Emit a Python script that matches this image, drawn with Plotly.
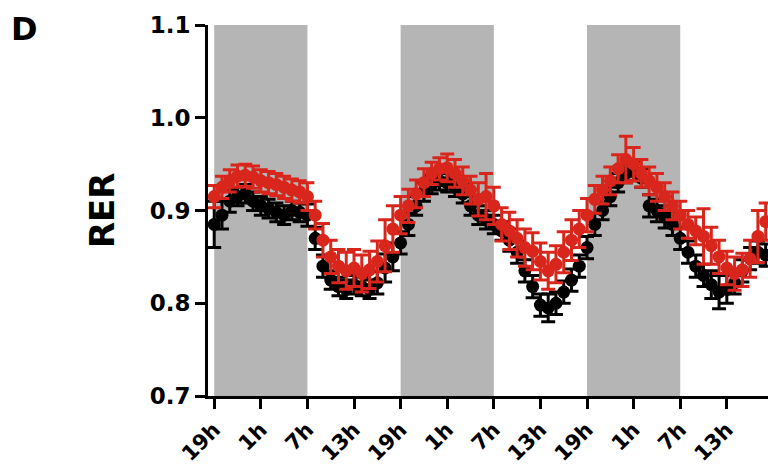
import plotly.graph_objects as go

hours = list(range(72))
tick_vals = list(range(0, 67, 6))
tick_text = ["19h", "1h", "7h", "13h"] * 3
dark_periods = [(0, 12), (24, 36), (48, 60)]

red_mean = [0.915, 0.925, 0.932, 0.937, 0.938, 0.936, 0.932, 0.930, 0.928, 0.925, 0.922, 0.920,
            0.915, 0.895, 0.868, 0.850, 0.840, 0.835, 0.838, 0.832, 0.836, 0.845, 0.862, 0.880,
            0.895, 0.905, 0.918, 0.930, 0.940, 0.945, 0.946, 0.940, 0.932, 0.922, 0.912, 0.915,
            0.905, 0.885, 0.878, 0.870, 0.860, 0.856, 0.845, 0.835, 0.842, 0.855, 0.868, 0.880,
            0.895, 0.912, 0.922, 0.932, 0.945, 0.955, 0.950, 0.940, 0.932, 0.925, 0.915, 0.905,
            0.895, 0.885, 0.878, 0.872, 0.862, 0.850, 0.838, 0.832, 0.836, 0.848, 0.872, 0.888]
red_err = [0.012, 0.012, 0.012, 0.012, 0.012, 0.012, 0.012, 0.012, 0.012, 0.012, 0.012, 0.012,
           0.015, 0.015, 0.018, 0.018, 0.018, 0.020, 0.020, 0.020, 0.020, 0.022, 0.028, 0.025,
           0.020, 0.018, 0.015, 0.015, 0.012, 0.012, 0.015, 0.015, 0.015, 0.015, 0.018, 0.025,
           0.020, 0.018, 0.020, 0.020, 0.020, 0.020, 0.020, 0.020, 0.020, 0.022, 0.022, 0.020,
           0.018, 0.015, 0.015, 0.015, 0.015, 0.025, 0.018, 0.015, 0.015, 0.015, 0.015, 0.015,
           0.015, 0.015, 0.015, 0.030, 0.020, 0.018, 0.018, 0.018, 0.018, 0.020, 0.028, 0.020]
black_mean = [0.885, 0.895, 0.910, 0.915, 0.918, 0.910, 0.905, 0.902, 0.898, 0.895, 0.900, 0.898,
              0.895, 0.870, 0.840, 0.825, 0.818, 0.815, 0.820, 0.818, 0.815, 0.822, 0.838, 0.850,
              0.865, 0.885, 0.905, 0.920, 0.928, 0.932, 0.930, 0.925, 0.918, 0.905, 0.895, 0.890,
              0.885, 0.878, 0.868, 0.855, 0.835, 0.818, 0.798, 0.795, 0.800, 0.812, 0.825, 0.840,
              0.860, 0.885, 0.900, 0.915, 0.930, 0.940, 0.942, 0.935, 0.905, 0.900, 0.893, 0.885,
              0.870, 0.855, 0.840, 0.830, 0.820, 0.812, 0.815, 0.822, 0.835, 0.848, 0.855, 0.852]
black_err = [0.025, 0.015, 0.012, 0.010, 0.010, 0.010, 0.010, 0.010, 0.010, 0.010, 0.010, 0.010,
             0.012, 0.012, 0.012, 0.010, 0.010, 0.010, 0.010, 0.010, 0.010, 0.012, 0.015, 0.015,
             0.012, 0.012, 0.010, 0.010, 0.010, 0.010, 0.010, 0.010, 0.010, 0.010, 0.010, 0.010,
             0.010, 0.010, 0.012, 0.012, 0.012, 0.012, 0.012, 0.015, 0.012, 0.012, 0.012, 0.012,
             0.012, 0.012, 0.010, 0.010, 0.010, 0.010, 0.010, 0.010, 0.012, 0.012, 0.012, 0.012,
             0.012, 0.012, 0.012, 0.012, 0.015, 0.018, 0.015, 0.012, 0.012, 0.012, 0.012, 0.012]

RED = "#d9261c"
GREY = "#b5b5b5"

fig = go.Figure()

for start, end in dark_periods:
    fig.add_shape(type="rect", xref="x", yref="y", x0=start, x1=end, y0=0.7, y1=1.1,
                  fillcolor=GREY, line_width=0, layer="below")

fig.add_trace(go.Scatter(
    x=hours, y=black_mean, mode="markers",
    marker=dict(color="black", size=13, symbol="circle"),
    error_y=dict(type="data", array=black_err, color="black", thickness=3, width=7),
    showlegend=False, cliponaxis=False))
fig.add_trace(go.Scatter(
    x=hours, y=red_mean, mode="markers",
    marker=dict(color=RED, size=13, symbol="circle"),
    error_y=dict(type="data", array=red_err, color=RED, thickness=3, width=7),
    showlegend=False, cliponaxis=False))

fig.update_layout(
    width=768, height=469,
    margin=dict(l=208, r=0, t=25, b=73),
    paper_bgcolor="white", plot_bgcolor="white",
    font=dict(family="DejaVu Sans", color="black"),
    xaxis=dict(range=[-0.8, 71.3], tickmode="array", tickvals=tick_vals, ticktext=tick_text,
               tickangle=-45, ticks="outside", ticklen=10, tickwidth=3, tickcolor="black",
               showline=True, linewidth=3, linecolor="black", showgrid=False, zeroline=False,
               tickfont=dict(family="DejaVu Sans", size=21, weight="bold", color="black")),
    yaxis=dict(range=[0.7, 1.1], tickmode="array", tickvals=[0.7, 0.8, 0.9, 1.0, 1.1],
               ticktext=["0.7", "0.8", "0.9", "1.0", "1.1"],
               ticks="outside", ticklen=10, tickwidth=3, tickcolor="black",
               showline=True, linewidth=3, linecolor="black", showgrid=False, zeroline=False,
               tickfont=dict(family="DejaVu Sans", size=23, weight="bold", color="black")),
    annotations=[
        dict(text="D", xref="paper", yref="paper", x=-0.355, y=1.045, xanchor="left",
             yanchor="top", showarrow=False,
             font=dict(family="DejaVu Sans", size=32, weight="bold", color="black")),
        dict(text="RER", xref="paper", yref="paper", x=-0.19, y=0.50, xanchor="center",
             yanchor="middle", textangle=-90, showarrow=False,
             font=dict(family="DejaVu Sans", size=34, weight="bold", color="black")),
    ],
)

fig.write_html("out.html")
